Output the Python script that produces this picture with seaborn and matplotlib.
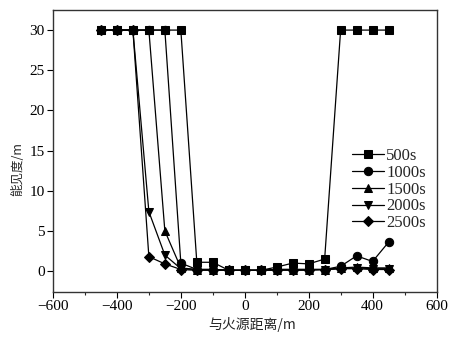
import matplotlib
matplotlib.use("Agg")
import matplotlib.pyplot as plt
import seaborn as sns
import pandas as pd
from matplotlib.ticker import MultipleLocator

# Distance from the fire source (m)
distance = [-450, -400, -350, -300, -250, -200, -150, -100, -50, 0,
            50, 100, 150, 200, 250, 300, 350, 400, 450]

# Visibility (m) at each time
vis_500 = [30, 30, 30, 30, 30, 30, 1.1, 1.1, 0.1, 0.1,
           0.1, 0.5, 1.0, 0.9, 1.5, 30, 30, 30, 30]
vis_1000 = [30, 30, 30, 30, 30, 1.0, 0.2, 0.2, 0.1, 0.1,
            0.1, 0.2, 0.2, 0.2, 0.2, 0.6, 1.9, 1.2, 3.6]
vis_1500 = [30, 30, 30, 30, 5.0, 0.4, 0.2, 0.2, 0.1, 0.1,
            0.1, 0.2, 0.2, 0.2, 0.2, 0.4, 0.5, 0.4, 0.4]
vis_2000 = [30, 30, 30, 7.4, 2.0, 0.3, 0.2, 0.2, 0.1, 0.1,
            0.1, 0.2, 0.2, 0.2, 0.2, 0.3, 0.4, 0.3, 0.3]
vis_2500 = [30, 30, 30, 1.8, 0.9, 0.2, 0.1, 0.1, 0.1, 0.1,
            0.1, 0.1, 0.1, 0.1, 0.2, 0.3, 0.3, 0.2, 0.2]

series = {
    "500s": (vis_500, "s"),
    "1000s": (vis_1000, "o"),
    "1500s": (vis_1500, "^"),
    "2000s": (vis_2000, "v"),
    "2500s": (vis_2500, "D"),
}

sns.set_theme(style="ticks")
plt.rcParams["font.family"] = ["Liberation Serif", "Noto Sans CJK SC"]
plt.rcParams["axes.unicode_minus"] = True

fig = plt.figure(figsize=(4.63, 3.43), dpi=100)
ax = fig.add_axes([53 / 463, 1 - 292 / 343, (436.5 - 53) / 463, (292 - 10) / 343])

for label, (vals, mk) in series.items():
    df = pd.DataFrame({"distance": distance, "visibility": vals})
    ms = 5.5 if mk == "D" else 6
    sns.lineplot(data=df, x="distance", y="visibility", ax=ax, color="black",
                 linewidth=0.9, marker=mk, markersize=ms,
                 markeredgecolor="black", markerfacecolor="black",
                 label=label, legend=True)

ax.set_xlim(-600, 600)
ax.set_ylim(-2.6, 32.5)
ax.xaxis.set_major_locator(MultipleLocator(200))
ax.xaxis.set_minor_locator(MultipleLocator(100))
ax.yaxis.set_major_locator(MultipleLocator(5))

for sp in ax.spines.values():
    sp.set_color("#333333")
    sp.set_linewidth(1.0)

ax.tick_params(axis="both", which="major", direction="out", length=4,
               width=0.8, labelsize=11, colors="black", pad=2)
ax.tick_params(axis="x", which="minor", direction="out", length=2.5, width=0.8)

ax.set_xlabel("与火源距离/m", fontsize=10, family=["Noto Sans CJK SC"], labelpad=3)
ax.set_ylabel("能见度/m", fontsize=9, family=["Noto Sans CJK SC"], labelpad=4)
ax.xaxis.label.set_x(0.52)
ax.yaxis.label.set_y(0.436)

leg = ax.legend(loc="upper left", bbox_to_anchor=(352 / 463, 1 - 148 / 343),
                bbox_transform=fig.transFigure, frameon=False, fontsize=12,
                handlelength=1.9, handletextpad=0.15, labelspacing=0.05,
                borderpad=0, borderaxespad=0)

fig.savefig("out.png", dpi=100)
